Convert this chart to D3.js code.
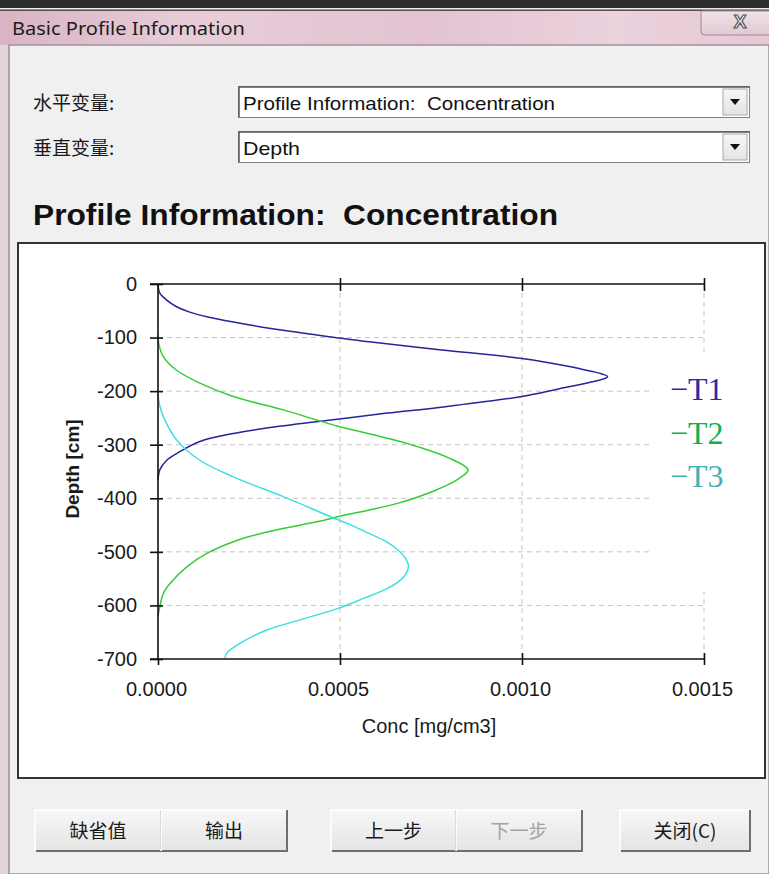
<!DOCTYPE html>
<meta charset="utf-8">
<title>Basic Profile Information</title>
<style>
body { margin: 0; background: #f0f0f0; }
svg { display: block; font-family: "Liberation Sans", Arial, sans-serif; }
text { white-space: pre; }
.cjk { font-family: "Noto Sans CJK SC", sans-serif; }
.grid line { stroke: #c4c4c4; stroke-width: 1; stroke-dasharray: 5,4; }
.axis path { display: none; }
.axis line { stroke: #111; stroke-width: 1.6; }
.axis text { font-size: 20px; fill: #1a1a1a; font-family: "Liberation Sans", Arial, sans-serif; }
.curve { fill: none; stroke-width: 1.5; }
</style>
<body>
<script src="https://d3js.org/d3.v7.min.js"></script>
<script>

// profile data: depth [cm] and conc [mg/cm3]
var t1Depth = [0, -17, -30, -42, -52, -61, -71, -83, -101, -108, -123, -139, -154, -163, -168, -173, -178, -183, -196, -210, -229, -241, -251, -257, -269, -279, -294, -313, -329, -347, -366];
var t1Conc  = [0, 0.000005, 0.000024, 0.00005, 0.000085, 0.000134, 0.000207, 0.00031, 0.0005, 0.00058, 0.00078, 0.0010, 0.00113, 0.00119, 0.00122, 0.001235, 0.00122, 0.00119, 0.00110, 0.0010, 0.00079, 0.00063, 0.00051, 0.000435, 0.000298, 0.000207, 0.000115, 0.00006, 0.000024, 0.000005, 0];

var t2Depth = [-95, -115, -136, -161, -185, -210, -235, -254, -266, -282, -294, -304, -325, -347, -366, -391, -409, -422, -434, -444, -462, -481, -503, -528, -559, -577, -602, -621];
var t2Conc  = [0, 0.000003, 0.000015, 0.000051, 0.000115, 0.000207, 0.000344, 0.000436, 0.000497, 0.000595, 0.000665, 0.000715, 0.0008, 0.000852, 0.00082, 0.00074, 0.00066, 0.00058, 0.000497, 0.000436, 0.000305, 0.000207, 0.000134, 0.000079, 0.000033, 0.000015, 0.000005, 0];

var t3Depth = [-204, -225, -248, -291, -329, -360, -397, -434, -450, -465, -480, -497, -512, -525, -540, -555, -570, -586, -605, -627, -646, -671, -689, -698];
var t3Conc  = [0, 0.000004, 0.000015, 0.000051, 0.000115, 0.000207, 0.000344, 0.000473, 0.00053, 0.000578, 0.000625, 0.00066, 0.00068, 0.000688, 0.000682, 0.000662, 0.000625, 0.000568, 0.000497, 0.00039, 0.000299, 0.000225, 0.000189, 0.000184];

var seriesNames = ["T1", "T2", "T3"];
var xTicks = [0, 0.0005, 0.001, 0.0015];
var xTickLabels = ["0.0000", "0.0005", "0.0010", "0.0015"];
var yTicks = [0, -100, -200, -300, -400, -500, -600, -700];
var yTickLabels = ["0", "-100", "-200", "-300", "-400", "-500", "-600", "-700"];
var buttonLabels = ["缺省值", "输出", "上一步", "下一步", "关闭(C)"];

var lineColors = ["#25259a", "#35cc35", "#3ddede"];
var legendColors = ["#2a2aa4", "#0db152", "#3eb2b6"];

var W = 769, H = 874;
var svg = d3.select("body").append("svg").attr("width", W).attr("height", H);

// ---- window chrome ----
var defs = svg.append("defs");
var tg = defs.append("linearGradient").attr("id", "titleGrad");
[["0%", "#d9b4c4"], ["25%", "#e8cdd9"], ["55%", "#e3c3d1"], ["80%", "#ebd2dd"], ["100%", "#e6c8d5"]]
  .forEach(function(s) { tg.append("stop").attr("offset", s[0]).attr("stop-color", s[1]); });
var bg = defs.append("linearGradient").attr("id", "btnGrad").attr("x1", 0).attr("y1", 0).attr("x2", 0).attr("y2", 1);
bg.append("stop").attr("offset", "0%").attr("stop-color", "#f7f7f7");
bg.append("stop").attr("offset", "100%").attr("stop-color", "#e4e4e4");
var cg = defs.append("linearGradient").attr("id", "closeGrad").attr("x1", 0).attr("y1", 0).attr("x2", 0).attr("y2", 1);
cg.append("stop").attr("offset", "0%").attr("stop-color", "#efe2e8");
cg.append("stop").attr("offset", "100%").attr("stop-color", "#e2c8d4");

svg.append("rect").attr("width", W).attr("height", H).attr("fill", "url(#titleGrad)");
svg.append("rect").attr("width", W).attr("height", 8).attr("fill", "#2d2d2d");
svg.append("rect").attr("y", 8).attr("width", W).attr("height", 1.5).attr("fill", "#ececec");
svg.append("rect").attr("y", 9.5).attr("width", W).attr("height", 1.5).attr("fill", "#5a4a52");

svg.append("text").attr("x", 12).attr("y", 35)
  .attr("font-family", "'Noto Sans', sans-serif").attr("font-size", 18).attr("fill", "#1c1c1c")
  .attr("textLength", 233).attr("lengthAdjust", "spacingAndGlyphs")
  .text("Basic Profile Information");

// close button
svg.append("path").attr("d", "M701,11 V31 Q701,35 705,35 H775 V11 Z")
  .attr("fill", "url(#closeGrad)").attr("stroke", "#9c8a93").attr("stroke-width", 1);
svg.append("text").attr("x", 740).attr("y", 28).attr("text-anchor", "middle")
  .attr("font-size", 19).attr("font-weight", "bold").attr("fill", "#f4f4f4")
  .attr("stroke", "#555").attr("stroke-width", 1.2).text("X");

// body
svg.append("rect").attr("x", 9).attr("y", 45).attr("width", W - 9).attr("height", H - 45)
  .attr("fill", "#f0f0f0").attr("stroke", "#a1929a").attr("stroke-width", 1.5);
svg.append("rect").attr("x", 0).attr("y", 45).attr("width", 8).attr("height", H - 45).attr("fill", "#e2d4db");

// selectors
var selRows = [{label: "水平变量:", value: "Profile Information:  Concentration", y: 86, vw: 312},
               {label: "垂直变量:", value: "Depth", y: 131, vw: 57}];
selRows.forEach(function(r) {
  svg.append("text").attr("class", "cjk").attr("x", 33).attr("y", r.y + 17).attr("dy", "0.35em")
    .attr("font-size", 19).attr("fill", "#1a1a1a").text(r.label);
  svg.append("rect").attr("x", 238.5).attr("y", r.y + 0.5).attr("width", 511).attr("height", 31)
    .attr("fill", "#fff").attr("stroke", "#828282");
  svg.append("path").attr("d", "M239," + (r.y + 31) + " V" + (r.y + 1) + " H750")
    .attr("fill", "none").attr("stroke", "#5a5a5a").attr("stroke-width", 1.5);
  svg.append("rect").attr("x", 723).attr("y", r.y + 3).attr("width", 24).attr("height", 26)
    .attr("fill", "url(#btnGrad)").attr("stroke", "#a8a8a8");
  svg.append("path").attr("d", "M730," + (r.y + 13) + " h10 l-5,6 z").attr("fill", "#111");
  svg.append("text").attr("x", 243).attr("y", r.y + 17).attr("dy", "0.35em")
    .attr("font-family", "'Liberation Sans', Arial, sans-serif").attr("font-size", 19).attr("fill", "#111")
    .attr("textLength", r.vw).attr("lengthAdjust", "spacingAndGlyphs").text(r.value);
});

svg.append("text").attr("x", 33).attr("y", 225)
  .attr("font-size", 30).attr("font-weight", "bold").attr("fill", "#111")
  .attr("textLength", 525).attr("lengthAdjust", "spacingAndGlyphs")
  .text("Profile Information:  Concentration");

// chart frame
svg.append("rect").attr("x", 18).attr("y", 243).attr("width", 747).attr("height", 535)
  .attr("fill", "#fff").attr("stroke", "#333").attr("stroke-width", 2);

// ---- chart ----
var x = d3.scaleLinear().domain([0, 0.0015]).range([158, 704]);
var y = d3.scaleLinear().domain([0, -700]).range([284, 659]);

var grid = svg.append("g").attr("class", "grid");
grid.selectAll(".h").data(yTicks.slice(1, -1)).enter().append("line")
  .attr("x1", x(0)).attr("x2", x(0.0015))
  .attr("y1", function(d) { return y(d); }).attr("y2", function(d) { return y(d); });
grid.selectAll(".v").data(xTicks.slice(1)).enter().append("line")
  .attr("y1", y(0)).attr("y2", y(-700))
  .attr("x1", function(d) { return x(d); }).attr("x2", function(d) { return x(d); });

// legend box covers the grid
svg.append("rect").attr("x", 652).attr("y", 353).attr("width", 108).attr("height", 239).attr("fill", "#fff");

var line = d3.line()
  .x(function(d) { return x(d[1]); })
  .y(function(d) { return y(d[0]); })
  .curve(d3.curveCatmullRom.alpha(0.5));

var series = [d3.zip(t1Depth, t1Conc), d3.zip(t2Depth, t2Conc), d3.zip(t3Depth, t3Conc)];
svg.selectAll(".curve").data(series).enter().append("path")
  .attr("class", "curve")
  .attr("stroke", function(d, i) { return lineColors[i]; })
  .attr("d", line);

// axes
var topAxis = svg.append("g").attr("class", "axis").attr("transform", "translate(0," + y(0) + ")")
  .call(d3.axisTop(x).tickValues(xTicks.slice(1)).tickSize(6).tickFormat(""));
topAxis.selectAll(".tick line").attr("y1", 7);

var bottomAxis = svg.append("g").attr("class", "axis").attr("transform", "translate(0," + y(-700) + ")")
  .call(d3.axisBottom(x).tickValues(xTicks).tickSize(6).tickPadding(17)
    .tickFormat(function(d, i) { return xTickLabels[i]; }));
bottomAxis.selectAll(".tick line").attr("y1", function(d) { return d === 0 ? 0 : -6; });
bottomAxis.selectAll(".tick text").attr("dx", -2);

var leftAxis = svg.append("g").attr("class", "axis").attr("transform", "translate(" + x(0) + ",0)")
  .call(d3.axisLeft(y).tickValues(yTicks).tickSize(8).tickPadding(13)
    .tickFormat(function(d, i) { return yTickLabels[i]; }));
leftAxis.selectAll(".tick line").attr("x1", 5);

var axisLines = svg.append("g").attr("stroke", "#111").attr("stroke-width", 1.6);
axisLines.append("line").attr("x1", x(0) - 8).attr("x2", x(0.0015)).attr("y1", y(0)).attr("y2", y(0));
axisLines.append("line").attr("x1", x(0) - 8).attr("x2", x(0.0015)).attr("y1", y(-700)).attr("y2", y(-700));
axisLines.append("line").attr("x1", x(0)).attr("x2", x(0)).attr("y1", y(0)).attr("y2", y(-700));

svg.append("text").attr("transform", "translate(72,469) rotate(-90)")
  .attr("text-anchor", "middle").attr("dy", "0.35em")
  .attr("font-size", 19).attr("font-weight", "bold").attr("fill", "#1a1a1a")
  .text("Depth [cm]");
svg.append("text").attr("x", 429).attr("y", 733).attr("text-anchor", "middle")
  .attr("font-size", 20).attr("fill", "#1a1a1a")
  .text("Conc [mg/cm3]");

// legend
svg.selectAll(".leg").data(seriesNames).enter().append("text")
  .attr("x", 670).attr("y", function(d, i) { return 400 + i * 43.5; })
  .attr("font-family", "'Liberation Serif', 'Times New Roman', serif").attr("font-size", 32)
  .attr("fill", function(d, i) { return legendColors[i]; })
  .text(function(d) { return "\u2212" + d; });

// ---- buttons ----
var buttons = [[35, 161], [161, 287], [331, 456], [456, 582], [620, 750]];
buttons.forEach(function(b, i) {
  var g = svg.append("g");
  g.append("rect").attr("x", b[0]).attr("y", 810).attr("width", b[1] - b[0]).attr("height", 41)
    .attr("fill", "url(#btnGrad)");
  g.append("path").attr("d", "M" + b[0] + ",851 V810 H" + b[1])
    .attr("fill", "none").attr("stroke", "#fff").attr("stroke-width", 1.5);
  g.append("path").attr("d", "M" + (b[0] + 1) + ",851 H" + b[1] + " V810")
    .attr("fill", "none").attr("stroke", "#6f6f6f").attr("stroke-width", 2);
  g.append("text").attr("class", "cjk").attr("x", (b[0] + b[1]) / 2).attr("y", 831).attr("dy", "0.35em")
    .attr("text-anchor", "middle").attr("font-size", 19)
    .attr("fill", i === 3 ? "#a3a3a3" : "#1a1a1a")
    .text(buttonLabels[i]);
});

</script>
</body>
